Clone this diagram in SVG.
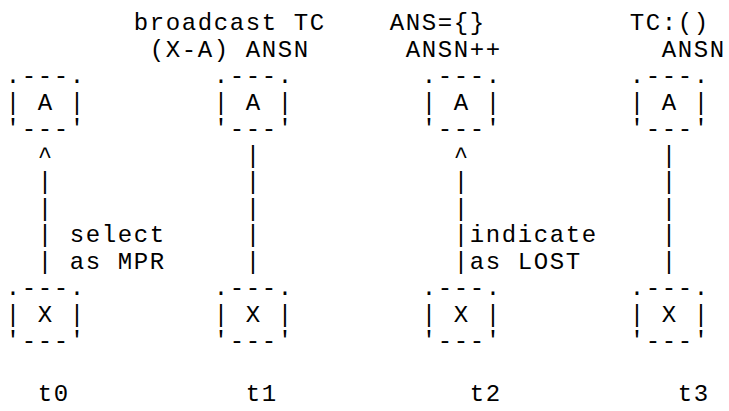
<svg xmlns="http://www.w3.org/2000/svg" width="729" height="411" viewBox="0 0 729 411">
<style>
text{font-family:"Liberation Mono","DejaVu Sans Mono",monospace;font-size:24px;letter-spacing:1.6px;fill:#000;white-space:pre}
</style>
<rect width="729" height="411" fill="#fff"/>
<g id="labels">
<text x="133.8" y="30">broadcast TC</text>
<text x="149.8" y="56.5">(X-A) ANSN</text>
<text x="389.8" y="30">ANS={}</text>
<text x="405.8" y="56.5">ANSN++</text>
<text x="629.8" y="30">TC:()</text>
<text x="661.8" y="56.5">ANSN</text>
</g>
<g id="node-A-t0"><text x="5.8" y="83">.---.</text><text x="5.8" y="109.5">| A |</text><text x="5.8" y="136">'---'</text></g>
<g id="node-A-t1"><text x="213.8" y="83">.---.</text><text x="213.8" y="109.5">| A |</text><text x="213.8" y="136">'---'</text></g>
<g id="node-A-t2"><text x="421.8" y="83">.---.</text><text x="421.8" y="109.5">| A |</text><text x="421.8" y="136">'---'</text></g>
<g id="node-A-t3"><text x="629.8" y="83">.---.</text><text x="629.8" y="109.5">| A |</text><text x="629.8" y="136">'---'</text></g>
<g id="connectors">
<text x="37.8" y="162.5">^</text><text x="37.8" y="189">|</text><text x="37.8" y="215.5">|</text><text x="37.8" y="242">|</text><text x="37.8" y="268.5">|</text>
<text x="245.8" y="162.5">|</text><text x="245.8" y="189">|</text><text x="245.8" y="215.5">|</text><text x="245.8" y="242">|</text><text x="245.8" y="268.5">|</text>
<text x="453.8" y="162.5">^</text><text x="453.8" y="189">|</text><text x="453.8" y="215.5">|</text><text x="453.8" y="242">|</text><text x="453.8" y="268.5">|</text>
<text x="661.8" y="162.5">|</text><text x="661.8" y="189">|</text><text x="661.8" y="215.5">|</text><text x="661.8" y="242">|</text><text x="661.8" y="268.5">|</text>
<text x="69.8" y="242">select</text><text x="69.8" y="268.5">as MPR</text>
<text x="469.8" y="242">indicate</text><text x="469.8" y="268.5">as LOST</text>
</g>
<g id="node-X-t0"><text x="5.8" y="295">.---.</text><text x="5.8" y="321.5">| X |</text><text x="5.8" y="348">'---'</text></g>
<g id="node-X-t1"><text x="213.8" y="295">.---.</text><text x="213.8" y="321.5">| X |</text><text x="213.8" y="348">'---'</text></g>
<g id="node-X-t2"><text x="421.8" y="295">.---.</text><text x="421.8" y="321.5">| X |</text><text x="421.8" y="348">'---'</text></g>
<g id="node-X-t3"><text x="629.8" y="295">.---.</text><text x="629.8" y="321.5">| X |</text><text x="629.8" y="348">'---'</text></g>
<g id="time-labels">
<text x="37.8" y="401">t0</text>
<text x="245.8" y="401">t1</text>
<text x="469.8" y="401">t2</text>
<text x="677.8" y="401">t3</text>
</g>
</svg>
